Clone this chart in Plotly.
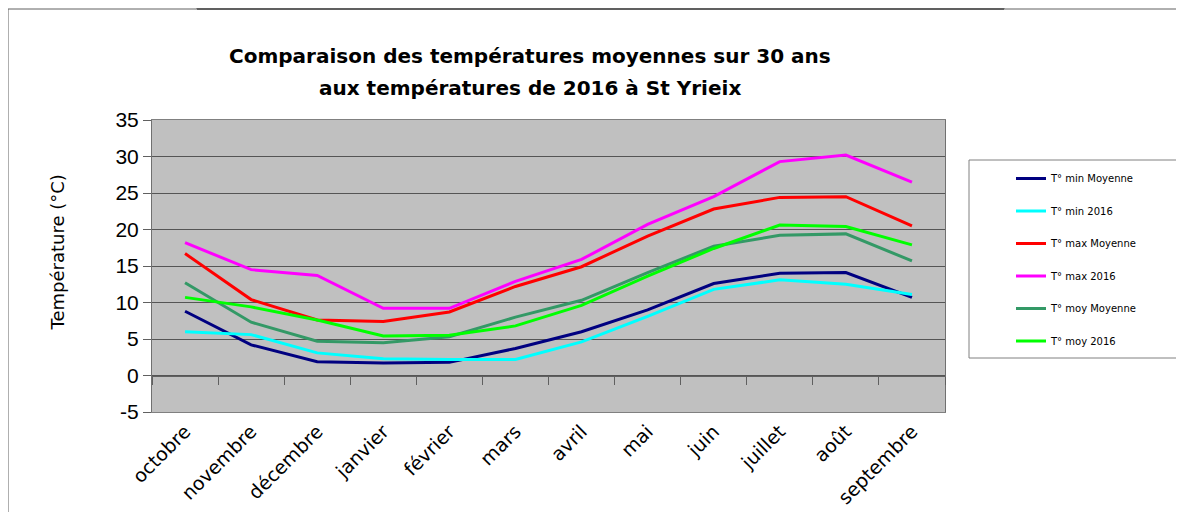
import plotly.graph_objects as go

months = ["octobre", "novembre", "décembre", "janvier", "février", "mars",
          "avril", "mai", "juin", "juillet", "août", "septembre"]

tmin_moy = [8.8, 4.2, 1.9, 1.7, 1.8, 3.7, 6.0, 9.0, 12.6, 14.0, 14.1, 10.7]
tmin_2016 = [6.0, 5.6, 3.1, 2.3, 2.2, 2.2, 4.6, 8.1, 11.8, 13.1, 12.5, 11.1]
tmax_moy = [16.7, 10.4, 7.6, 7.4, 8.7, 12.2, 14.9, 19.1, 22.8, 24.4, 24.5, 20.5]
tmax_2016 = [18.2, 14.5, 13.7, 9.2, 9.2, 12.9, 15.9, 20.7, 24.5, 29.3, 30.2, 26.5]
tmoy_moy = [12.7, 7.3, 4.7, 4.5, 5.3, 8.0, 10.3, 14.1, 17.7, 19.2, 19.4, 15.7]
tmoy_2016 = [10.7, 9.4, 7.6, 5.4, 5.5, 6.8, 9.6, 13.6, 17.4, 20.6, 20.4, 17.9]

y_ticks = [-5, 0, 5, 10, 15, 20, 25, 30, 35]

series = [
    ("T° min Moyenne", tmin_moy, "#000080"),
    ("T° min 2016", tmin_2016, "#00FFFF"),
    ("T° max Moyenne", tmax_moy, "#FF0000"),
    ("T° max 2016", tmax_2016, "#FF00FF"),
    ("T° moy Moyenne", tmoy_moy, "#339966"),
    ("T° moy 2016", tmoy_2016, "#00FF00"),
]

OFF = 8  # page body margin
W, H = 1184 - OFF, 512 - OFF
L, R, T, B = 152, 945, 120, 412  # plot area in reference pixels


def px(x):
    return (x - L) / (R - L)


def py(y):
    return (B - y) / (B - T)


COMIC = "Comic Sans MS, DejaVu Sans, sans-serif"

fig = go.Figure()
for i, (name, vals, col) in enumerate(series):
    fig.add_trace(go.Scatter(
        x=months, y=vals, mode="lines", name=name,
        line=dict(color=col, width=3), legendgroup=f"g{i}",
    ))

# helper empty trace so the secondary (tick-only) x axis is drawn at y = 0
fig.add_trace(go.Scatter(x=[], y=[], xaxis="x2", showlegend=False, hoverinfo="skip"))

ymin, ymax = y_ticks[0], y_ticks[-1]
zero_pos = (0 - ymin) / (ymax - ymin)
bounds = [i - 0.5 for i in range(len(months) + 1)]

fig.update_layout(
    width=W, height=H,
    margin=dict(l=L - OFF, r=1184 - R, t=T - OFF, b=512 - B, autoexpand=False),
    paper_bgcolor="white",
    plot_bgcolor="#C0C0C0",
    showlegend=True,
    legend=dict(
        x=px(1011), y=py(164), xanchor="left", yanchor="top",
        font=dict(family=COMIC, size=10, color="black"),
        bgcolor="rgba(0,0,0,0)", borderwidth=0,
        tracegroupgap=13.5, traceorder="grouped",
    ),
    xaxis=dict(
        type="category", range=[-0.5, len(months) - 0.5],
        showgrid=False, ticks="", tickangle=-45,
        tickfont=dict(family=COMIC, size=19, color="black"),
        showline=True, linecolor="#808080", linewidth=1, mirror=True,
        zeroline=False,
    ),
    xaxis2=dict(
        type="linear", overlaying="x", anchor="free", position=zero_pos,
        range=[-0.5, len(months) - 0.5], tickvals=bounds,
        showticklabels=False, ticks="outside", ticklen=8, tickcolor="#606060",
        showline=True, linecolor="#606060", linewidth=1, showgrid=False,
        zeroline=False,
    ),
    yaxis=dict(
        range=[ymin, ymax], tickvals=y_ticks, ticktext=[str(v) for v in y_ticks],
        showgrid=True, gridcolor="#555555", gridwidth=1,
        zeroline=False,
        ticks="outside", ticklen=8, tickcolor="#606060",
        tickfont=dict(family="Liberation Sans, Arial, sans-serif", size=21, color="black"),
        showline=True, linecolor="#707070", linewidth=1, mirror=True,
    ),
    annotations=[
        dict(text="<b>Comparaison des températures moyennes sur 30 ans</b>",
             xref="paper", yref="paper", x=px(530), y=py(42),
             showarrow=False, font=dict(family=COMIC, size=20, color="black")),
        dict(text="<b>aux températures de 2016 à St Yrieix</b>",
             xref="paper", yref="paper", x=px(530), y=py(74),
             showarrow=False, font=dict(family=COMIC, size=20, color="black")),
        dict(text="Température (°C)", textangle=-90,
             xref="paper", yref="paper", x=px(44), y=py(252),
             showarrow=False, font=dict(family=COMIC, size=18, color="black")),
    ],
    shapes=[
        # legend frame
        dict(type="rect", xref="paper", yref="paper",
             x0=px(969), x1=px(1181), y0=py(358), y1=py(160),
             line=dict(color="#808080", width=1), fillcolor="rgba(0,0,0,0)"),
        # page frame
        dict(type="line", xref="paper", yref="paper",
             x0=px(8), x1=px(1184), y0=py(9), y1=py(9),
             line=dict(color="#606060", width=1)),
        dict(type="line", xref="paper", yref="paper",
             x0=px(197), x1=px(1004), y0=py(9), y1=py(9),
             line=dict(color="#606060", width=2)),
        dict(type="line", xref="paper", yref="paper",
             x0=px(8), x1=px(8), y0=py(9), y1=py(512),
             line=dict(color="#606060", width=1)),
        dict(type="line", xref="paper", yref="paper",
             x0=px(197), x1=px(197), y0=py(0), y1=py(9),
             line=dict(color="#606060", width=1)),
        dict(type="line", xref="paper", yref="paper",
             x0=px(1004), x1=px(1004), y0=py(0), y1=py(9),
             line=dict(color="#606060", width=1)),
    ],
)

fig.write_html("out.html")
